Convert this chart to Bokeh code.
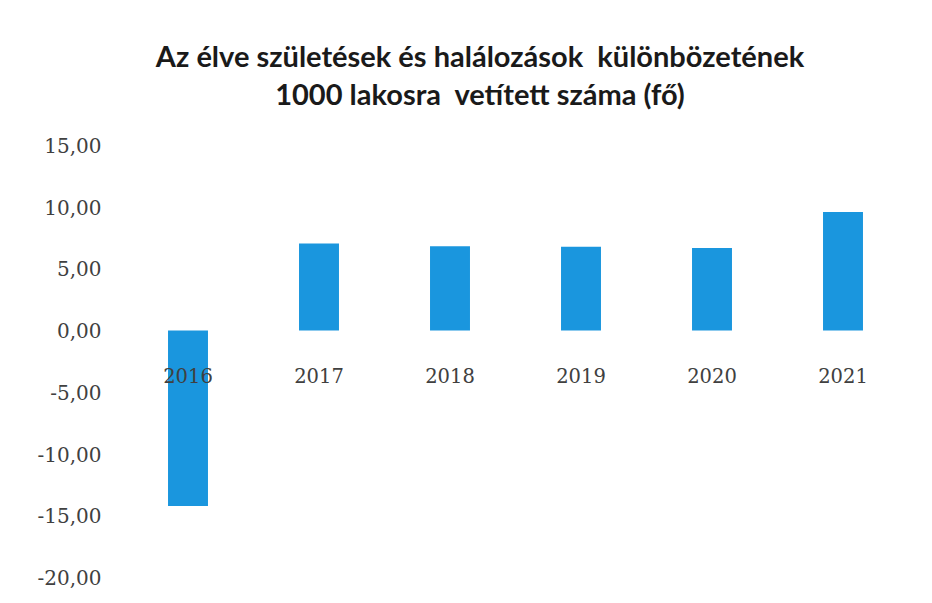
from bokeh.plotting import figure
from bokeh.models import ColumnDataSource, FixedTicker
from bokeh.core.properties import value
from bokeh.embed import file_html
from bokeh.resources import INLINE

years = ["2016", "2017", "2018", "2019", "2020", "2021"]
values = [-14.2, 7.05, 6.83, 6.8, 6.7, 9.6]
tick_values = [-20, -15, -10, -5, 0, 5, 10, 15]
tick_labels = ["-20,00", "-15,00", "-10,00", "-5,00", "0,00", "5,00", "10,00", "15,00"]
title_lines = ["Az élve születések és halálozások \u00a0különbözetének",
               "1000 lakosra \u00a0vetített száma (fő)"]

src = ColumnDataSource(dict(x=years, top=values, zero=[0] * len(years)))

p = figure(x_range=years, y_range=(-20, 25.2), width=916, height=594,
           output_backend="svg", toolbar_location=None,
           min_border_left=122, min_border_right=8,
           min_border_top=19, min_border_bottom=17)

p.vbar(x="x", top="top", bottom=0, width=0.305, source=src,
       fill_color="#1a96de", line_color=None)

p.text(x="x", y="zero", text="x", source=src, y_offset=45,
       text_align="center", text_baseline="middle",
       text_font=value("DejaVu Serif"), text_font_size="19.5px",
       text_color="#404040")

tsrc = ColumnDataSource(dict(x=["2018", "2018"], y=[22.29, 19.21], t=title_lines))
p.text(x="x", y="y", text="t", source=tsrc, x_offset=30,
       text_align="center", text_baseline="middle",
       text_font=value("Lato"), text_font_style="bold",
       text_font_size="29px", text_color="#1a1a1a")

p.xaxis.visible = False
p.xgrid.visible = False
p.ygrid.visible = False
p.outline_line_color = None

ax = p.yaxis[0]
ax.ticker = FixedTicker(ticks=tick_values)
ax.major_label_overrides = {v: l for v, l in zip(tick_values, tick_labels)}
ax.axis_line_color = None
ax.major_tick_line_color = None
ax.minor_tick_line_color = None
ax.major_label_text_font = "DejaVu Serif"
ax.major_label_text_font_size = "20px"
ax.major_label_text_color = "#404040"
ax.major_label_standoff = 15

open("out.html", "w").write(file_html(p, INLINE))
